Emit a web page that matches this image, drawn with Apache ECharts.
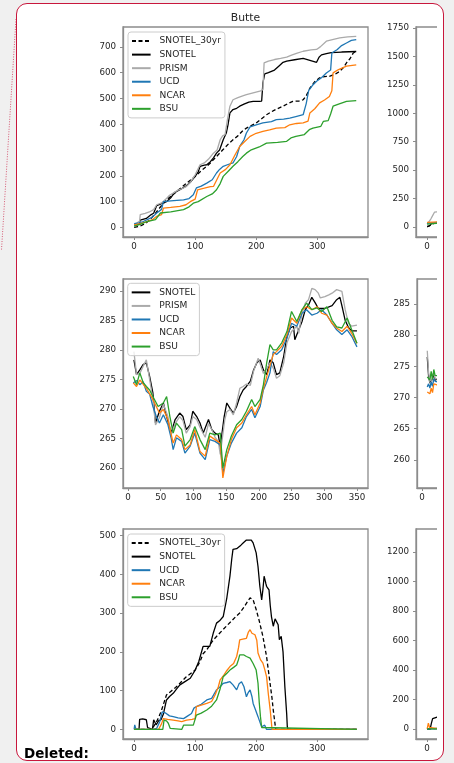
<!DOCTYPE html>
<html><head><meta charset="utf-8">
<script src="https://cdn.jsdelivr.net/npm/echarts@6/dist/echarts.min.js"></script>
<style>
html,body{margin:0;padding:0;background:#f0f0f0;width:454px;height:763px;overflow:hidden;}
#box{position:absolute;left:16px;top:3px;width:426px;height:756px;border:1.5px solid #c8173c;border-radius:11px;background:#fff;}
#clip{position:absolute;left:0;top:0;width:437px;height:763px;overflow:hidden;}
#chart{position:absolute;left:0;top:0;width:700px;height:763px;}
#del{position:absolute;left:24px;top:745px;font:bold 13.5px "DejaVu Sans",Verdana,sans-serif;color:#000;}
#dots{position:absolute;left:0;top:0;}
</style></head>
<body>
<div id="box"></div>
<svg id="dots" width="30" height="260"><line x1="16" y1="19" x2="1.5" y2="250" stroke="#c8173c" stroke-width="1" stroke-dasharray="1,1.5" opacity="0.7"/></svg>
<div id="clip"><div id="chart"></div></div>
<div id="del">Deleted:</div>
<script>
// ---------- data ----------
const stationTitle = 'Butte';
const namesP = ['SNOTEL_30yr','SNOTEL','PRISM','UCD','NCAR','BSU'];
const namesT = ['SNOTEL','PRISM','UCD','NCAR','BSU'];
const namesS = ['SNOTEL_30yr','SNOTEL','UCD','NCAR','BSU'];

const ticksDay100 = [0,100,200,300];
const ticksDay50 = [0,50,100,150,200,250,300,350];
const ticksP = [0,100,200,300,400,500,600,700];
const ticksT = [260,265,270,275,280,285,290];
const ticksS = [0,100,200,300,400,500];
const ticksP2 = [0,250,500,750,1000,1250,1500,1750];
const ticksT2 = [260,265,270,275,280,285];
const ticksS2 = [0,200,400,600,800,1000,1200];

// Butte cumulative precipitation
const pSnotel30 = [[0,0],[10,5],[20,18],[26,30],[35,55],[45,85],[53,107],[65,130],[75,150],[85,170],[100,198],[110,220],[119,237],[125,250],[135,275],[145,300],[155,325],[162,340],[170,355],[178,375],[184,385],[192,395],[200,405],[208,420],[217,437],[230,455],[244,470],[252,480],[260,489],[270,490],[277,495],[282,510],[288,540],[296,565],[304,580],[312,585],[320,586],[330,595],[337,605],[343,620],[348,638],[354,655],[359,676],[364,683]];
const pSnotel = [[0,10],[8,12],[10,28],[20,35],[28,50],[32,55],[37,85],[45,92],[53,100],[60,115],[66,135],[75,146],[85,160],[92,175],[100,198],[105,215],[108,237],[115,242],[119,243],[125,255],[130,270],[135,288],[140,300],[146,340],[151,366],[154,400],[157,444],[162,457],[168,462],[173,470],[180,478],[188,486],[195,489],[205,489],[209,490],[211,560],[214,595],[220,600],[230,610],[237,625],[244,640],[250,645],[263,650],[277,655],[288,648],[299,640],[303,660],[307,669],[315,674],[323,678],[340,680],[364,682]];
const pPrism = [[0,12],[5,18],[9,25],[10,50],[18,55],[25,60],[32,69],[37,88],[45,95],[52,110],[58,125],[64,133],[72,145],[80,152],[86,159],[92,175],[100,204],[108,243],[115,250],[122,265],[130,288],[136,300],[141,340],[145,355],[149,360],[153,420],[157,470],[162,495],[170,503],[178,510],[184,515],[195,522],[206,528],[211,534],[213,638],[220,645],[230,651],[240,655],[250,660],[258,668],[266,675],[277,683],[290,688],[299,690],[305,700],[315,722],[325,728],[337,735],[350,739],[364,741]];
const pUcd = [[0,15],[8,18],[15,23],[30,40],[37,56],[45,70],[48,100],[60,103],[70,105],[81,107],[90,112],[97,127],[102,153],[110,160],[119,172],[128,185],[135,211],[140,225],[146,237],[155,245],[162,250],[168,275],[173,314],[180,340],[184,366],[190,390],[200,398],[211,405],[225,410],[233,418],[245,420],[255,424],[265,430],[277,437],[282,480],[286,530],[292,550],[299,567],[307,580],[315,599],[322,610],[324,676],[333,690],[340,705],[348,715],[356,725],[364,728]];
const pNcar = [[0,10],[10,15],[21,23],[30,30],[37,43],[45,50],[48,75],[60,78],[75,82],[85,88],[92,100],[100,110],[104,146],[115,152],[125,158],[130,159],[141,211],[150,225],[157,243],[165,280],[173,314],[180,330],[190,353],[200,365],[211,372],[222,378],[233,385],[247,387],[255,398],[266,403],[277,405],[285,412],[288,444],[296,460],[304,483],[312,494],[320,508],[324,530],[326,599],[335,612],[348,625],[364,630]];
const pBsu = [[0,5],[10,12],[21,23],[35,30],[43,56],[60,60],[81,69],[90,80],[97,94],[105,100],[119,120],[128,130],[135,146],[141,170],[146,198],[155,220],[162,237],[170,255],[178,275],[184,288],[192,301],[205,312],[217,327],[235,330],[250,334],[257,347],[265,353],[279,360],[287,379],[293,385],[306,392],[310,411],[318,414],[322,440],[326,470],[335,478],[348,489],[364,492]];

// Butte temperature (K)
const tSnotel = [[9,278.3],[13,275.8],[18,276.6],[23,277.5],[28,277.8],[33,275.5],[38,272.7],[42,267.6],[48,269.6],[54,271.0],[59,268.7],[66,265.9],[72,268.2],[79,269.3],[84,268.7],[89,266.5],[95,267.3],[99,269.6],[105,268.7],[110,267.6],[115,265.9],[123,268.2],[128,266.5],[133,265.9],[138,265.6],[141,263.6],[147,268.7],[151,271.0],[156,270.1],[161,269.3],[166,270.4],[171,272.1],[176,273.2],[181,273.8],[187,274.7],[192,276.6],[197,277.8],[202,278.3],[207,276.6],[212,275.8],[217,278.3],[222,277.8],[227,275.8],[232,276.1],[238,278.9],[243,282.3],[248,283.7],[253,284.0],[255,281.7],[261,283.4],[266,284.8],[271,286.8],[276,287.6],[281,288.9],[286,288.0],[291,287.0],[301,287.0],[312,287.5],[319,288.5],[324,288.9],[328,287.0],[332,285.0],[337,283.8],[342,283.2],[350,283.2]];
const tPrism = [[9,279.7],[13,275.8],[18,276.0],[23,277.2],[28,278.3],[33,275.0],[38,271.6],[42,267.3],[48,268.5],[54,270.8],[61,268.7],[66,265.6],[72,267.5],[79,268.7],[84,268.0],[89,265.9],[95,267.0],[99,268.7],[105,268.2],[110,266.9],[118,265.2],[123,267.5],[128,266.5],[133,265.2],[138,264.5],[141,262.3],[148,268.2],[151,269.5],[156,269.9],[161,269.0],[166,271.0],[171,273.5],[176,273.8],[181,274.2],[187,274.0],[192,276.4],[199,278.6],[207,276.0],[212,276.8],[217,277.8],[222,276.9],[227,275.2],[232,275.6],[238,277.8],[243,281.2],[250,283.1],[258,284.0],[261,282.8],[266,286.2],[271,287.9],[276,288.5],[281,290.4],[286,290.2],[291,289.6],[294,288.8],[301,289.0],[307,289.3],[312,289.6],[319,290.2],[327,289.9],[332,286.8],[337,284.5],[342,284.0],[350,284.2]];
const tUcd = [[8,274.4],[13,274.8],[18,274.1],[23,274.6],[28,273.0],[33,272.5],[38,270.4],[43,268.8],[48,267.6],[54,269.0],[61,267.3],[66,265.0],[69,263.1],[74,265.1],[82,264.5],[87,262.5],[95,263.7],[102,265.9],[110,262.5],[118,261.4],[125,264.8],[133,264.5],[141,263.9],[145,259.1],[151,262.0],[158,264.2],[166,265.9],[174,266.8],[181,268.7],[189,269.9],[194,268.5],[202,270.4],[207,273.2],[212,274.5],[217,276.1],[222,279.7],[227,279.2],[235,280.0],[243,282.0],[250,284.5],[258,284.0],[266,286.2],[273,286.8],[281,285.9],[289,286.2],[296,286.8],[304,285.9],[312,284.5],[319,283.4],[327,282.6],[335,283.4],[342,282.3],[350,280.5]];
const tNcar = [[8,274.4],[13,273.8],[18,274.9],[28,273.5],[38,271.6],[48,269.3],[54,269.9],[61,268.2],[69,264.2],[74,265.6],[82,264.8],[87,263.1],[95,263.9],[102,266.5],[110,262.8],[118,262.0],[125,265.4],[133,264.8],[141,264.2],[145,258.3],[151,262.0],[158,264.8],[166,266.8],[174,267.6],[181,269.0],[189,270.4],[194,269.0],[202,271.0],[207,273.5],[215,276.6],[222,279.2],[227,279.7],[235,280.6],[243,282.6],[250,285.4],[258,284.5],[266,286.8],[273,287.3],[281,286.8],[289,287.3],[296,286.2],[304,285.9],[312,284.5],[319,283.7],[327,283.1],[335,284.0],[342,282.8],[350,281.1]];
const tBsu = [[8,275.5],[13,274.1],[18,276.1],[23,274.5],[28,273.8],[33,273.2],[38,272.1],[46,270.4],[54,271.0],[59,272.1],[64,268.7],[69,265.9],[74,267.6],[82,266.5],[87,263.7],[95,264.8],[102,267.0],[110,264.8],[118,263.1],[125,265.9],[133,265.6],[141,265.9],[145,260.0],[151,263.1],[158,265.4],[166,267.3],[174,268.2],[181,269.6],[189,271.6],[194,270.4],[202,271.6],[207,274.1],[212,277.8],[217,280.9],[222,280.0],[227,280.0],[235,281.2],[243,283.1],[250,286.5],[258,284.8],[266,286.8],[273,287.9],[281,286.8],[289,287.1],[296,286.5],[304,287.3],[312,285.0],[319,283.9],[327,283.7],[335,285.4],[342,283.4],[350,281.1]];

// Butte snow water equivalent
const sSnotel30 = [[0,0],[25,0],[30,3],[35,15],[40,30],[45,50],[53,89],[60,98],[68,108],[75,119],[85,135],[100,153],[108,175],[113,195],[119,205],[125,220],[130,231],[140,248],[151,266],[160,280],[166,290],[173,300],[180,315],[186,330],[190,339],[195,334],[200,309],[205,280],[211,240],[217,188],[222,128],[226,80],[228,50],[232,0],[365,0]];
const sSnotel = [[0,0],[8,0],[9,26],[14,27],[20,25],[22,5],[23,0],[30,0],[32,25],[36,12],[40,22],[44,25],[48,40],[53,76],[58,85],[64,93],[70,105],[75,115],[82,122],[92,132],[100,153],[106,175],[113,214],[124,214],[130,250],[135,274],[140,280],[146,291],[152,340],[157,395],[160,440],[162,464],[168,466],[171,468],[175,475],[179,481],[184,488],[187,492],[192,488],[195,481],[200,455],[203,420],[206,369],[209,334],[211,360],[213,395],[216,375],[217,369],[221,360],[223,320],[225,291],[228,266],[231,285],[233,287],[236,270],[238,231],[241,240],[244,200],[247,110],[250,40],[251,7],[252,0],[365,0]];
const sUcd = [[0,0],[1,12],[3,0],[30,0],[37,3],[42,20],[46,45],[48,50],[52,42],[58,35],[64,33],[72,30],[81,28],[88,35],[94,41],[98,55],[102,59],[110,65],[119,76],[127,80],[135,102],[141,110],[146,119],[152,121],[157,123],[162,115],[168,102],[172,118],[176,123],[180,110],[184,84],[187,95],[190,102],[193,85],[195,67],[199,50],[203,33],[207,15],[209,7],[212,3],[214,11],[217,0],[365,0]];
const sNcar = [[0,0],[2,5],[4,0],[40,0],[45,15],[48,28],[55,26],[64,24],[72,22],[78,20],[86,24],[95,26],[100,28],[102,59],[110,63],[119,67],[127,72],[133,90],[138,110],[141,128],[147,140],[152,152],[157,162],[163,170],[168,188],[171,210],[173,231],[178,233],[184,235],[187,250],[190,257],[193,248],[198,244],[201,230],[203,197],[207,180],[211,171],[214,155],[217,136],[220,90],[223,50],[226,0],[365,0]];
const sBsu = [[0,0],[47,0],[49,24],[53,22],[56,16],[59,3],[62,0],[78,0],[81,11],[90,11],[97,11],[102,37],[110,42],[119,50],[127,60],[135,76],[141,105],[146,136],[152,145],[157,153],[163,160],[168,166],[171,180],[173,192],[180,192],[184,188],[187,185],[190,184],[195,170],[200,153],[203,119],[205,70],[207,33],[209,5],[210,0],[365,0]];

// second station (right column, mostly cut off)
const p2Snotel30 = [[0,0],[5,15],[10,30],[20,50]];
const p2Snotel = [[0,5],[4,10],[7,30],[10,35],[20,40]];
const p2Prism = [[0,25],[3,40],[6,70],[9,100],[12,130],[20,135]];
const p2Ucd = [[0,35],[20,40]];
const p2Ncar = [[0,40],[20,45]];
const p2Bsu = [[0,25],[20,35]];
const t2Snotel = [[8,276.5],[10,273.5],[12,272.3],[14,272],[16,273],[18,273.8],[20,272.8],[24,273]];
const t2Prism = [[8,277.5],[10,274],[12,272.5],[14,272],[16,273.5],[18,274],[20,273],[24,273]];
const t2Ucd = [[8,271.7],[10,272.2],[12,271.5],[14,272.5],[16,271.8],[18,273],[20,272.6],[24,272.5]];
const t2Ncar = [[8,270.9],[10,271.2],[12,270.6],[14,271.5],[16,270.8],[18,272.2],[20,272],[24,272]];
const t2Bsu = [[8,273.3],[10,273.6],[12,272.8],[14,274.2],[16,272.9],[18,274.5],[20,273.5],[24,273.5]];
const s2Snotel30 = [[0,0],[20,5]];
const s2Snotel = [[0,0],[5,0],[7,40],[9,70],[11,80],[20,85]];
const s2Ucd = [[0,0],[20,0]];
const s2Ncar = [[0,0],[1,20],[2,40],[4,10],[6,0],[20,0]];
const s2Bsu = [[0,0],[20,0]];

// ---------- styling ----------
const SPINE = '#8c8c8c';
const FONT = 'DejaVu Sans';
const colors = {SNOTEL_30yr:'#000000', SNOTEL:'#000000', PRISM:'#aaaaaa', UCD:'#1f77b4', NCAR:'#ff7f0e', BSU:'#2ca02c'};

const grids = [], xAxes = [], yAxes = [], series = [], legends = [];
function panel(left, top, height, xr, xt, yr, yt, lines, legendPos) {
  const gi = grids.length;
  grids.push({left:left, top:top, width:245, height:height, show:true, borderColor:SPINE, borderWidth:1.3, backgroundColor:'transparent'});
  const tick = (vals) => ({show:true, length:3, inside:false, lineStyle:{color:SPINE, width:1}, customValues:vals});
  const lab = (vals, m) => ({customValues:vals, margin:m, fontSize:8.7, fontFamily:FONT, color:'#262626', formatter:(v) => String(v)});
  xAxes.push({type:'value', gridIndex:gi, min:xr[0], max:xr[1], axisLine:{show:true, onZero:false, lineStyle:{color:SPINE, width:1.3}},
    axisTick:tick(xt), axisLabel:lab(xt,5.5), splitLine:{show:false}});
  yAxes.push({type:'value', gridIndex:gi, min:yr[0], max:yr[1], axisLine:{show:true, onZero:false, lineStyle:{color:SPINE, width:1.3}},
    axisTick:tick(yt), axisLabel:lab(yt,7), splitLine:{show:false}});
  lines.forEach(([name, data]) => {
    series.push({type:'line', name:name, xAxisIndex:gi, yAxisIndex:gi, data:data, symbol:'none', showSymbol:false,
      lineStyle:{color:colors[name], width:1.3, type: name === 'SNOTEL_30yr' ? [4,2.5] : 'solid'},
      itemStyle:{color:colors[name]}, animation:false, clip:true, z:2});
  });
  if (legendPos) {
    legends.push({left:legendPos[0], top:legendPos[1], orient:'vertical', data:lines.map(l => l[0]),
      itemWidth:18.6, itemHeight:10, itemGap:0, padding:[2.3,4,2.3,3], selectedMode:false,
      itemStyle:{color:'rgba(0,0,0,0)', borderColor:'rgba(0,0,0,0)', borderWidth:0, opacity:0},
      backgroundColor:'rgba(255,255,255,0.8)', borderColor:'#cccccc', borderWidth:1, borderRadius:3,
      textStyle:{fontSize:9.1, fontFamily:FONT, color:'#262626', lineHeight:13.55, padding:[0,0,0,4]}});
  }
}

const dayRange = [-18.25, 383.25];
const dayRangeT = [-7.7, 366.9];
panel(123, 27, 210, dayRange, ticksDay100, [-37, 777], ticksP,
  [['SNOTEL_30yr',pSnotel30],['SNOTEL',pSnotel],['PRISM',pPrism],['UCD',pUcd],['NCAR',pNcar],['BSU',pBsu]], [128,32]);
panel(416, 27, 210, dayRange, ticksDay100, [-87.9, 1758.8], ticksP2,
  [['SNOTEL_30yr',p2Snotel30],['SNOTEL',p2Snotel],['PRISM',p2Prism],['UCD',p2Ucd],['NCAR',p2Ncar],['BSU',p2Bsu]], null);
panel(123, 279, 209, dayRangeT, ticksDay50, [256.6, 292.0], ticksT,
  [['SNOTEL',tSnotel],['PRISM',tPrism],['UCD',tUcd],['NCAR',tNcar],['BSU',tBsu]], [127.7,283.3]);
panel(417, 279, 209, dayRangeT, ticksDay50, [255.5, 289.0], ticksT2,
  [['SNOTEL',t2Snotel],['PRISM',t2Prism],['UCD',t2Ucd],['NCAR',t2Ncar],['BSU',t2Bsu]], null);
panel(123, 529, 210, dayRange, ticksDay100, [-24.6, 516.6], ticksS,
  [['SNOTEL_30yr',sSnotel30],['SNOTEL',sSnotel],['UCD',sUcd],['NCAR',sNcar],['BSU',sBsu]], [127.7,534]);
panel(416, 529, 210, dayRange, ticksDay100, [-68, 1356], ticksS2,
  [['SNOTEL_30yr',s2Snotel30],['SNOTEL',s2Snotel],['UCD',s2Ucd],['NCAR',s2Ncar],['BSU',s2Bsu]], null);

const chart = echarts.init(document.getElementById('chart'), null, {renderer:'canvas'});
chart.setOption({
  animation:false,
  backgroundColor:'transparent',
  grid:grids, xAxis:xAxes, yAxis:yAxes, series:series, legend:legends,
  graphic:[{type:'text', x:245.5, y:18.5, style:{text:stationTitle, fill:'#262626', font:'10.8px "DejaVu Sans"', textAlign:'center', textVerticalAlign:'middle'}}]
});
</script>
</body></html>
